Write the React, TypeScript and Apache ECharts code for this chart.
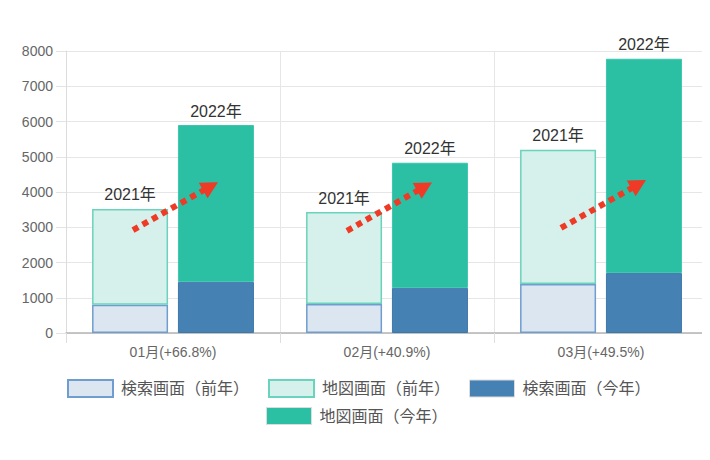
import React, { useEffect, useRef } from "react";
import * as echarts from "echarts";

const categories = ["01月(+66.8%)", "02月(+40.9%)", "03月(+49.5%)"];
const seriesNames = ["検索画面（前年）", "地図画面（前年）", "検索画面（今年）", "地図画面（今年）"];
const search2021 = [800, 820, 1390];
const map2021 = [2720, 2610, 3810];
const search2022 = [1450, 1280, 1700];
const map2022 = [4450, 3550, 6080];
const yearLabels = ["2021年", "2022年"];
const arrowStartValues = [2920, 2900, 2980];
const arrowEndValues = [4280, 4270, 4340];

const FONT = "'Liberation Sans', 'Noto Sans CJK JP', sans-serif";
const RED = "#ef3a26";

function arrow(x1: number, y1: number, x2: number, y2: number) {
  const dx = x2 - x1;
  const dy = y2 - y1;
  const L = Math.hypot(dx, dy);
  const ux = dx / L;
  const uy = dy / L;
  const nx = -uy;
  const ny = ux;
  const head = 17;
  const hw = 9;
  const bx = x2 - ux * head;
  const by = y2 - uy * head;
  return [
    {
      type: "line",
      silent: true,
      z: 100,
      shape: { x1, y1, x2: bx + ux * 2, y2: by + uy * 2 },
      style: { stroke: RED, lineWidth: 6, lineDash: [6, 5] },
    },
    {
      type: "polygon",
      silent: true,
      z: 100,
      shape: { points: [[x2, y2], [bx + nx * hw, by + ny * hw], [bx - nx * hw, by - ny * hw]] },
      style: { fill: RED },
    },
  ];
}

export default function App() {
  const ref = useRef<HTMLDivElement>(null);
  useEffect(() => {
    if (!ref.current) return;
    const chart = echarts.init(ref.current, null, { renderer: "svg" });
    const legendText = { fontSize: 16, color: "#555", fontFamily: FONT, padding: [0, 0, 0, 3] };
    const option: any = {
      animation: false,
      textStyle: { fontFamily: FONT },
      grid: { left: 66, right: 2, top: 51, bottom: 127, containLabel: false },
      legend: [
        {
          data: [
            { name: seriesNames[0] },
            { name: seriesNames[1] },
            { name: seriesNames[2], itemStyle: { borderColor: "#dcdcdc", borderWidth: 1 } },
          ],
          icon: "rect",
          left: 62,
          top: 374,
          itemWidth: 45,
          itemHeight: 17,
          itemGap: 19,
          textStyle: legendText,
        },
        {
          data: [{ name: seriesNames[3], itemStyle: { borderColor: "#dcdcdc", borderWidth: 1 } }],
          icon: "rect",
          left: 261,
          top: 402,
          itemWidth: 45,
          itemHeight: 17,
          textStyle: legendText,
        },
      ],
      xAxis: {
        type: "category",
        data: categories,
        axisLine: { lineStyle: { color: "#b5b5b5", width: 1.5 } },
        axisTick: { show: true, length: 10, lineStyle: { color: "#dedede" } },
        splitLine: { show: true, lineStyle: { color: "#e6e6e6" } },
        axisLabel: { color: "#666", fontSize: 14, margin: 12, fontFamily: FONT },
      },
      yAxis: {
        type: "value",
        min: 0,
        max: 8000,
        interval: 1000,
        axisLine: { show: true, lineStyle: { color: "#dcdcdc" } },
        axisTick: { show: true, length: 10, lineStyle: { color: "#e3e3e3" } },
        splitLine: { show: true, lineStyle: { color: "#e6e6e6" } },
        axisLabel: {
          color: "#666",
          fontSize: 14,
          margin: 13,
          fontFamily: FONT,
          formatter: (v: number) => String(v),
        },
      },
      series: [
        {
          name: seriesNames[0],
          type: "bar",
          stack: "prev",
          data: search2021,
          barWidth: 76,
          barGap: "13%",
          itemStyle: { color: "#dce6f0", borderColor: "#6f9dcf", borderWidth: 1.5 },
        },
        {
          name: seriesNames[1],
          type: "bar",
          stack: "prev",
          data: map2021,
          barWidth: 76,
          barGap: "13%",
          itemStyle: { color: "#d6f1eb", borderColor: "#6ad3bd", borderWidth: 1.5 },
          label: {
            show: true,
            position: "top",
            distance: 6,
            formatter: yearLabels[0],
            color: "#333",
            fontSize: 16,
            fontFamily: FONT,
          },
        },
        {
          name: seriesNames[2],
          type: "bar",
          stack: "curr",
          data: search2022,
          barWidth: 76,
          barGap: "13%",
          itemStyle: { color: "#4681b4", borderColor: "#3f77aa", borderWidth: 1 },
        },
        {
          name: seriesNames[3],
          type: "bar",
          stack: "curr",
          data: map2022,
          barWidth: 76,
          barGap: "13%",
          itemStyle: { color: "#2bbfa4", borderColor: "#3cc6ad", borderWidth: 1 },
          label: {
            show: true,
            position: "top",
            distance: 6,
            formatter: yearLabels[1],
            color: "#333",
            fontSize: 16,
            fontFamily: FONT,
          },
        },
      ],
    };
    chart.setOption(option);

    const children: any[] = [];
    categories.forEach((c, i) => {
      const cx = chart.convertToPixel({ xAxisIndex: 0 }, c) as number;
      const y1 = chart.convertToPixel({ yAxisIndex: 0 }, arrowStartValues[i]) as number;
      const y2 = chart.convertToPixel({ yAxisIndex: 0 }, arrowEndValues[i]) as number;
      children.push(...arrow(cx - 40, y1, cx + 45, y2));
    });
    chart.setOption({ graphic: [{ type: "group", silent: true, z: 100, children }] });

    return () => chart.dispose();
  }, []);
  return <div ref={ref} style={{ width: 710, height: 460, margin: -8 }} />;
}
